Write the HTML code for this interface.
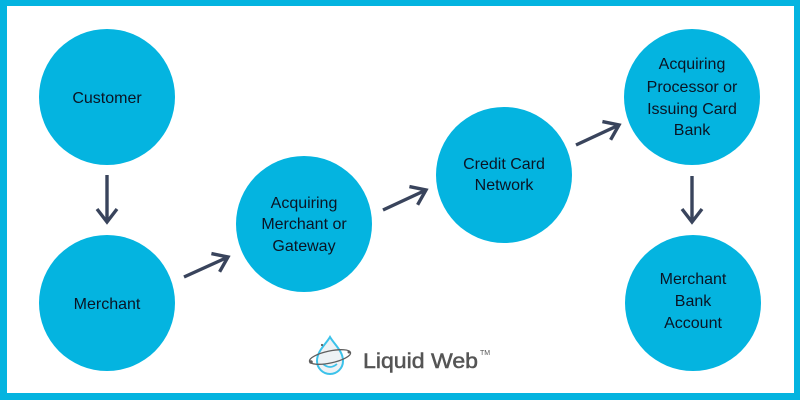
<!DOCTYPE html>
<html>
<head>
<meta charset="utf-8">
<style>
html,body{margin:0;padding:0;background:#fff;}
svg{display:block;}
</style>
</head>
<body>
<svg width="800" height="400" viewBox="0 0 800 400" xmlns="http://www.w3.org/2000/svg">
  <rect x="0" y="0" width="800" height="400" fill="#04b4e0"/>
  <rect x="7" y="6" width="787" height="387" fill="#ffffff"/>

  <g fill="#04b4e0">
    <circle cx="107" cy="97" r="68"/>
    <circle cx="107" cy="303" r="68"/>
    <circle cx="304" cy="224" r="68"/>
    <circle cx="504" cy="175" r="68"/>
    <circle cx="692" cy="97" r="68"/>
    <circle cx="693" cy="303" r="68"/>
  </g>

  <g stroke="#39445c" stroke-width="3.4" fill="none" stroke-linejoin="miter">
    <line x1="107" y1="175" x2="107" y2="222"/>
    <polyline points="97,209 107,222 117,209"/>
    <line x1="692" y1="176" x2="692" y2="222"/>
    <polyline points="682,209 692,222 702,209"/>

    <line x1="184" y1="277" x2="227" y2="257.5"/>
    <polyline points="211.4,253.6 228,257 219.6,271.8"/>
    <line x1="383" y1="210" x2="425" y2="190.5"/>
    <polyline points="409.4,186.6 426,190 417.6,204.8"/>
    <line x1="576" y1="145" x2="618" y2="125.5"/>
    <polyline points="602.4,121.6 619,125 610.6,139.8"/>
  </g>

  <g font-family="Liberation Sans, sans-serif" font-size="16" fill="#0a1424" text-anchor="middle">
    <text x="107" y="103">Customer</text>
    <text x="107" y="309">Merchant</text>
    <text x="304" y="208">Acquiring</text>
    <text x="304" y="229">Merchant or</text>
    <text x="304" y="251">Gateway</text>
    <text x="504" y="169">Credit Card</text>
    <text x="504" y="190">Network</text>
    <text x="692" y="69">Acquiring</text>
    <text x="692" y="92">Processor or</text>
    <text x="692" y="114">Issuing Card</text>
    <text x="692" y="135">Bank</text>
    <text x="693" y="284">Merchant</text>
    <text x="693" y="306">Bank</text>
    <text x="693" y="328">Account</text>
  </g>

  <!-- logo -->
  <g>
    <path d="M330,337 C334,344 343,351 343,361 A13,13 0 0 1 317,361 C317,351 326,344 330,337 Z" fill="#eef2f5" stroke="#3cc2ea" stroke-width="2"/>
    <path d="M323,364 Q330,370 337,364" fill="none" stroke="#3cc2ea" stroke-width="1.8"/>
    <ellipse cx="330" cy="357" rx="21" ry="6" fill="none" stroke="#5e5e5e" stroke-width="1.3" transform="rotate(-12 330 357)"/>
    <circle cx="311" cy="362" r="1.8" fill="#5e5e5e"/>
    <circle cx="349" cy="352" r="1.5" fill="#5e5e5e"/>
    <circle cx="322" cy="345" r="1.1" fill="#5e5e5e"/>
    <text x="363" y="368" font-family="Liberation Sans, sans-serif" font-size="21" fill="#555" stroke="#555" stroke-width="0.5" textLength="115" lengthAdjust="spacingAndGlyphs">Liquid Web</text>
    <text x="480" y="355" font-family="Liberation Sans, sans-serif" font-size="7" fill="#555">TM</text>
  </g>
</svg>
</body>
</html>
